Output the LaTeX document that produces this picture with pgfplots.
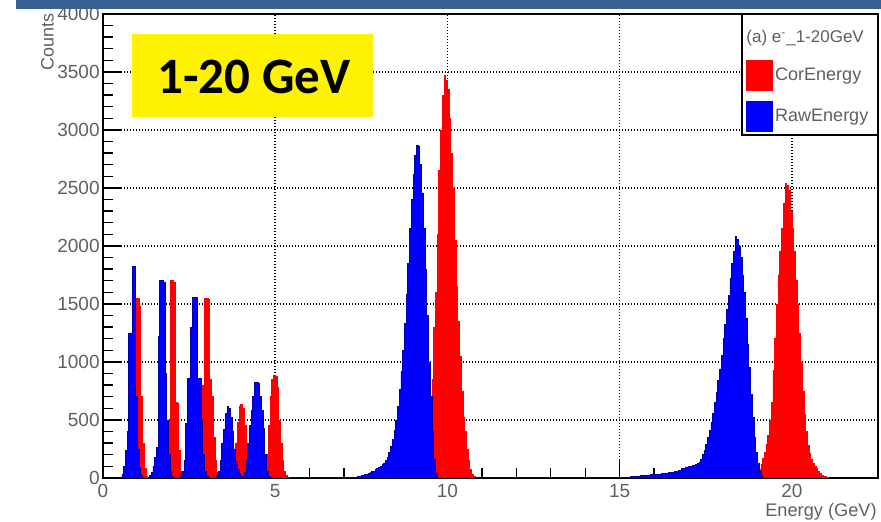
\documentclass[border=0pt]{standalone}
\usepackage{fontspec}
\setmainfont{Liberation Sans}
\newfontfamily\calibri{Carlito}
\usepackage{pgfplots}
\pgfplotsset{compat=1.18}
\definecolor{slidebar}{RGB}{56,97,147}
\definecolor{ticklab}{RGB}{95,95,95}
\pgfplotsset{
  layers/histo/.define layer set={axis background,axis grid,pre main,main,axis ticks,axis lines,axis tick labels,axis descriptions,axis foreground}{},
}

\begin{document}
\begin{tikzpicture}
\begin{axis}[
  name=ax, at={(0pt,0pt)}, anchor=south west,
  set layers=histo,
  width=387.5pt, height=232pt, scale only axis,
  xmin=0, xmax=22.5, ymin=0, ymax=4000,
  xtick={0,5,10,15,20}, ytick={0,500,...,4000},
  minor x tick num=4, minor y tick num=4,
  xtick pos=bottom, ytick pos=left,
  tick align=inside,
  major tick length=9pt, minor tick length=5pt,
  tick style={black, line width=0.7pt},
  axis line style={black, line width=1pt},
  grid=major,
  major grid style={black, line width=0.75pt, dash pattern=on 0.7pt off 0.8pt},
  ticklabel style={font=\fontsize{9.5}{11}\selectfont, text=ticklab},
  /pgf/number format/assume math mode=true,
  /pgf/number format/1000 sep={},
  scaled y ticks=false,
  yticklabel style={inner sep=1.5pt},
  xticklabel style={inner sep=3pt},
  legend cell align=left,
  legend style={at={(0.8297,0.9009)}, anchor=north west, draw=none, fill=none,
    inner sep=0pt, row sep=5pt, column sep=1pt,
    font=\fontsize{9}{11}\selectfont, nodes={inner sep=0pt, text=ticklab}},
]
% CorEnergy
\addplot[const plot mark left, fill=red, draw=red, line width=0.4pt,
  legend image code/.code={\fill[red] (0pt,-7.5pt) rectangle (13pt,7.5pt);}]
coordinates {
(0.75,0) (0.80,60) (0.85,300) (0.90,900) (0.95,1550) (1.00,1550) (1.05,1480) (1.10,700) (1.15,300) (1.20,80) (1.25,15) (1.30,0)
(1.80,30) (1.85,120) (1.90,500) (1.95,1700) (2.00,1700) (2.05,1690) (2.10,650) (2.15,640) (2.20,240) (2.25,60) (2.30,15) (2.35,0)
(2.75,30) (2.80,100) (2.85,350) (2.90,800) (2.95,1550) (3.00,1550) (3.05,1540) (3.10,850) (3.15,700) (3.20,350) (3.25,150) (3.30,50) (3.35,10) (3.40,0)
(3.70,20) (3.75,60) (3.80,150) (3.85,300) (3.90,480) (3.95,620) (4.00,635) (4.05,600) (4.10,450) (4.15,300) (4.20,170) (4.25,80) (4.30,30) (4.35,10) (4.40,0)
(4.65,30) (4.70,80) (4.75,200) (4.80,450) (4.85,700) (4.90,850) (4.95,888) (5.00,880) (5.05,780) (5.10,500) (5.15,300) (5.20,150) (5.25,60) (5.30,25) (5.35,5) (5.40,0)
(9.35,20) (9.40,150) (9.45,300) (9.50,550) (9.55,850) (9.60,1300) (9.65,1600) (9.70,2100) (9.75,2650) (9.80,3000) (9.85,3300) (9.90,3474) (9.95,3430)
(10.00,3350) (10.05,3100) (10.10,2800) (10.15,2500) (10.20,2050) (10.25,1650) (10.30,1350) (10.35,1050) (10.40,750) (10.45,520) (10.50,400) (10.55,250)
(10.60,150) (10.65,70) (10.70,30) (10.75,10) (10.80,0)
(19.00,40) (19.05,70) (19.10,120) (19.15,170) (19.20,220) (19.25,290) (19.30,370) (19.35,500) (19.40,650) (19.45,930) (19.50,1200) (19.55,1500)
(19.60,1750) (19.65,1950) (19.70,2150) (19.75,2370) (19.80,2540) (19.85,2520) (19.90,2480) (19.95,2300) (20.00,2150) (20.05,1950) (20.10,1700)
(20.15,1500) (20.20,1250) (20.25,1000) (20.30,750) (20.35,550) (20.40,400) (20.45,280) (20.50,210) (20.55,160) (20.60,127) (20.65,100) (20.70,80)
(20.75,60) (20.80,40) (20.85,25) (20.90,15) (20.95,10) (21.00,5) (21.05,0)
} \closedcycle;
\addlegendentry{CorEnergy}
% RawEnergy
\addplot[const plot mark left, fill=blue, draw=blue!65!black, line width=0.4pt,
  legend image code/.code={\fill[blue] (0pt,-7.5pt) rectangle (13pt,7.5pt);}]
coordinates {
(0.50,0) (0.55,30) (0.60,100) (0.65,240) (0.70,400) (0.75,1250) (0.80,1250) (0.85,1820) (0.90,1820) (0.95,700) (1.00,250) (1.05,80) (1.10,20) (1.15,0)
(1.35,20) (1.40,50) (1.45,100) (1.50,180) (1.55,260) (1.60,1220) (1.65,1700) (1.70,1700) (1.75,1690) (1.80,900) (1.85,500) (1.90,200) (1.95,60) (2.00,15) (2.05,0)
(2.25,20) (2.30,60) (2.35,150) (2.40,470) (2.45,860) (2.50,860) (2.55,1300) (2.60,1560) (2.65,1560) (2.70,1560) (2.75,860) (2.80,860) (2.85,500) (2.90,200) (2.95,60) (3.00,15) (3.05,0)
(3.30,20) (3.35,60) (3.40,150) (3.45,300) (3.50,420) (3.55,560) (3.60,615) (3.65,600) (3.70,520) (3.75,400) (3.80,250) (3.85,140) (3.90,70) (3.95,30) (4.00,10)
(4.05,10) (4.10,50) (4.15,150) (4.20,300) (4.25,450) (4.30,580) (4.35,700) (4.40,820) (4.45,825) (4.50,815) (4.55,700) (4.60,580) (4.65,430) (4.70,200) (4.75,60) (4.80,15) (4.85,0)
(7.40,10) (7.45,15) (7.50,20) (7.55,25) (7.60,30) (7.65,35) (7.70,40) (7.75,45) (7.80,55) (7.85,60) (7.90,70) (7.95,80) (8.00,90) (8.05,100) (8.10,115)
(8.15,130) (8.20,150) (8.25,180) (8.30,220) (8.35,270) (8.40,330) (8.45,410) (8.50,500) (8.55,620) (8.60,760) (8.65,920) (8.70,1100) (8.75,1330)
(8.80,1580) (8.85,1850) (8.90,2150) (8.95,2400) (9.00,2620) (9.05,2780) (9.10,2871) (9.15,2860) (9.20,2700) (9.25,2450) (9.30,2150) (9.35,1800)
(9.40,1400) (9.45,1000) (9.50,700) (9.55,400) (9.60,160) (9.65,40) (9.70,0)
(15.30,10) (15.40,15) (15.50,18) (15.60,20) (15.70,22) (15.80,25) (15.90,28) (16.00,30) (16.10,33) (16.20,36) (16.30,40) (16.40,45) (16.50,50)
(16.60,58) (16.70,68) (16.80,80) (16.90,95) (17.00,100) (17.10,105) (17.15,110) (17.20,115) (17.25,125) (17.30,135) (17.35,160) (17.40,200)
(17.45,240) (17.50,290) (17.55,350) (17.60,410) (17.65,480) (17.70,560) (17.75,650) (17.80,740) (17.85,840) (17.90,940) (17.95,1060) (18.00,1200)
(18.05,1320) (18.10,1450) (18.15,1570) (18.20,1720) (18.25,1850) (18.30,1950) (18.35,2086) (18.40,2060) (18.45,2000) (18.50,1900) (18.55,1750)
(18.60,1600) (18.65,1380) (18.70,1150) (18.75,950) (18.80,720) (18.85,520) (18.90,350) (18.95,220) (19.00,130) (19.05,60) (19.10,20) (19.15,0)
} \closedcycle;
\addlegendentry{RawEnergy}
% legend frame with its title line
\draw[line width=1pt, fill=white] (rel axis cs:0.8245,0.739) rectangle (rel axis cs:1,1);
\node[anchor=west, inner sep=0pt, text=ticklab, font=\fontsize{8.5}{10}\selectfont]
  at (rel axis cs:0.8297,0.949) {(a) e\textsuperscript{-}\_1-20GeV};
\end{axis}
\node[rotate=90, anchor=east, inner sep=0pt, text=ticklab, font=\fontsize{9}{11}\selectfont]
  at (-27.75pt,232.5pt) {Counts};
\node[anchor=east, inner sep=0pt, text=ticklab, font=\fontsize{9.1}{11}\selectfont]
  at (387pt,-16.8pt) {Energy (GeV)};
\fill[slidebar] (-43.5pt,234.5pt) rectangle (389pt,239pt);
\fill[yellow] (14.5pt,180.5pt) rectangle (135pt,222pt);
\node[inner sep=0pt, font=\calibri\bfseries\fontsize{25.5}{28}\selectfont] at (75.5pt,200.6pt) {1-20 GeV};
\pgfresetboundingbox
\path[use as bounding box] (-51.5pt,-22pt) rectangle (389pt,239pt);
\end{tikzpicture}
\end{document}
